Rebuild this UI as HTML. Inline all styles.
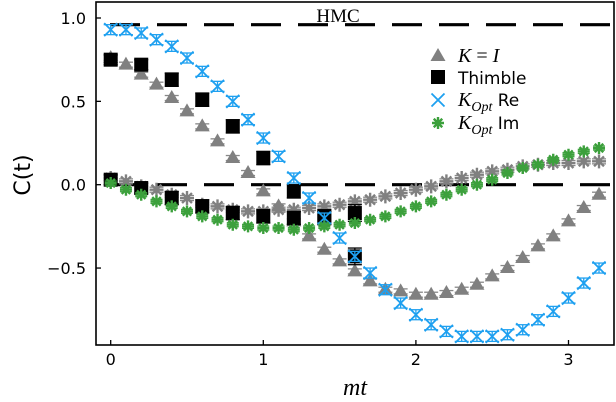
<!DOCTYPE html>
<html><head><meta charset="utf-8"><style>
body{margin:0;background:#fff}svg{display:block}
text{font-family:"DejaVu Sans","Liberation Sans",sans-serif}
</style></head><body>
<svg id="chart" width="616" height="402" xmlns="http://www.w3.org/2000/svg">
<g id="marks"></g>
<g id="axes"></g>
</svg>
<script>
const tKI = [0,0.1,0.2,0.3,0.4,0.5,0.6,0.7,0.8,0.9,1.0,1.1,1.2,1.3,1.4,1.5,1.6,1.7,1.8,1.9,2.0,2.1,2.2,2.3,2.4,2.5,2.6,2.7,2.8,2.9,3.0,3.1,3.2];
const kiRe = [0.76,0.72,0.66,0.60,0.52,0.44,0.35,0.26,0.16,0.07,-0.04,-0.13,-0.22,-0.31,-0.39,-0.46,-0.52,-0.58,-0.63,-0.64,-0.66,-0.66,-0.65,-0.63,-0.60,-0.55,-0.50,-0.44,-0.37,-0.31,-0.22,-0.14,-0.06];
const kiIm = [0.04,0.02,-0.01,-0.03,-0.06,-0.08,-0.12,-0.13,-0.15,-0.16,-0.16,-0.15,-0.15,-0.14,-0.13,-0.12,-0.10,-0.09,-0.07,-0.05,-0.03,-0.01,0.02,0.04,0.06,0.08,0.09,0.11,0.12,0.13,0.13,0.14,0.14];
const optRe = [0.93,0.93,0.91,0.87,0.83,0.76,0.68,0.59,0.50,0.39,0.28,0.17,0.04,-0.08,-0.20,-0.32,-0.43,-0.53,-0.63,-0.71,-0.78,-0.84,-0.88,-0.91,-0.91,-0.91,-0.90,-0.87,-0.81,-0.76,-0.68,-0.59,-0.50];
const optIm = [0.01,-0.03,-0.06,-0.10,-0.13,-0.16,-0.19,-0.21,-0.24,-0.25,-0.26,-0.26,-0.27,-0.26,-0.25,-0.24,-0.23,-0.21,-0.19,-0.16,-0.13,-0.10,-0.06,-0.03,0.00,0.03,0.07,0.10,0.12,0.15,0.18,0.20,0.22];
const tTh = [0,0.2,0.4,0.6,0.8,1.0,1.2,1.4,1.6];
const thRe = [0.75,0.72,0.63,0.51,0.35,0.16,-0.04,-0.20,-0.43];
const thIm = [0.03,-0.02,-0.08,-0.13,-0.17,-0.19,-0.20,-0.19,-0.17];
const thErr = [0.03,0.03,0.04,0.04,0.04,0.04,0.04,0.04,0.05];
const hmcLevels = [0.96,0.0];
const xTicks = [0,1,2,3];
const yTicks = [1.0,0.5,0.0,-0.5];
const yTickLabels = ["1.0","0.5","0.0","\u22120.5"];

const X0=96,X1=614,Y0=2,Y1=345;
const xs = v => 110.7 + v*152.6;
const ys = v => 184.7 - v*166.7;
const NS="http://www.w3.org/2000/svg";
const marks=document.getElementById('marks'), axes=document.getElementById('axes');
function mk(tag,attrs,parent){const e=document.createElementNS(NS,tag);for(const k in attrs)e.setAttribute(k,attrs[k]);parent.appendChild(e);return e;}

hmcLevels.forEach(v=>{
  const l=mk('line',{x1:X0+14,x2:X1,y1:ys(v),y2:ys(v),stroke:'#000','stroke-width':3.2,'stroke-dasharray':'30 17'},marks);
  
  
});
const hmc=mk('text',{x:338,y:22,'text-anchor':'middle','font-size':19,fill:'#000',style:'font-family:"Liberation Serif",serif'},marks);
hmc.textContent='HMC';



function err(parent,x,y,e,color,cap){
  mk('line',{x1:x,x2:x,y1:ys(y+e),y2:ys(y-e),stroke:color,'stroke-width':1.3},parent);
  mk('line',{x1:x-cap,x2:x+cap,y1:ys(y+e),y2:ys(y+e),stroke:color,'stroke-width':1.3},parent);
  mk('line',{x1:x-cap,x2:x+cap,y1:ys(y-e),y2:ys(y-e),stroke:color,'stroke-width':1.3},parent);
}
function tri(parent,x,y,c){mk('path',{d:`M${x},${y-8}L${x+7.5},${y+5}L${x-7.5},${y+5}Z`,fill:c},parent);}
function star(parent,x,y,c,r){let d='';for(let i=0;i<4;i++){const a=i*Math.PI/4;d+=`M${x-r*Math.cos(a)},${y-r*Math.sin(a)}L${x+r*Math.cos(a)},${y+r*Math.sin(a)}`;}mk('path',{d:d,stroke:c,'stroke-width':2.4,fill:'none'},parent);}
function cross(parent,x,y,c,r){mk('path',{d:`M${x-r},${y-r}L${x+r},${y+r}M${x-r},${y+r}L${x+r},${y-r}`,stroke:c,'stroke-width':1.8,fill:'none'},parent);}

const gKI=mk('g',{},marks);
[kiRe,kiIm].forEach((arr,si)=>arr.forEach((v,i)=>{
  const x=xs(tKI[i]),y=ys(v);
  err(gKI,x,v,0.015,'#888',7);
  if(si===0) tri(gKI,x,y,'#808080'); else star(gKI,x,y,'#808080',7);
}));
const gTh=mk('g',{},marks);
[thRe,thIm].forEach(arr=>arr.forEach((v,i)=>{
  const x=xs(tTh[i]),y=ys(v);
  err(gTh,x,v,thErr[i],'#000',7);
  mk('rect',{x:x-7,y:y-7,width:14,height:14,fill:'#000'},gTh);
}));
const gRe=mk('g',{},marks);
optRe.forEach((v,i)=>{const x=xs(tKI[i]),y=ys(v);err(gRe,x,v,0.03,'#1ea0f0',7);cross(gRe,x,y,'#1ea0f0',6.5);});
const gIm=mk('g',{},marks);
optIm.forEach((v,i)=>{const x=xs(tKI[i]),y=ys(v);err(gIm,x,v,0.012,'#3ca03c',6);star(gIm,x,y,'#3ca03c',6);});

const fr=mk('rect',{x:X0,y:Y0,width:X1-X0,height:Y1-Y0,fill:'none',stroke:'#000','stroke-width':1.6},axes);

xTicks.forEach(v=>{
  mk('line',{x1:xs(v),x2:xs(v),y1:Y1,y2:Y1-5,stroke:'#000','stroke-width':1.3},axes);
  const t=mk('text',{x:xs(v),y:365,'text-anchor':'middle','font-size':16},axes);t.textContent=String(v);
  
});
yTicks.forEach((v,i)=>{
  mk('line',{x1:X0,x2:X0+5,y1:ys(v),y2:ys(v),stroke:'#000','stroke-width':1.3},axes);
  const t=mk('text',{x:86,y:ys(v)+6,'text-anchor':'end','font-size':16},axes);t.textContent=yTickLabels[i];
  
});
const xt=mk('text',{x:355,y:395,'text-anchor':'middle','font-size':24,'font-style':'italic',style:'font-family:"Liberation Serif",serif'},axes);xt.textContent='mt';

const yt=mk('text',{x:0,y:0,'text-anchor':'middle','font-size':22,transform:'translate(30,175) rotate(-90)'},axes);yt.textContent='C(t)';


const lg=mk('g',{},axes);
tri(lg,438,56,'#808080');
mk('rect',{x:431,y:70,width:14,height:14,fill:'#000'},lg);
cross(lg,438,100,'#1ea0f0',6.5);
star(lg,438,123,'#3ca03c',6);
const ser='font-family:"Liberation Serif",serif;font-style:italic';
function lt(y,html,name){const t=mk('text',{x:458,y:y,'font-size':17},lg);t.innerHTML=html;}
lt(62,`<tspan style='${ser}' font-size='20'>K</tspan><tspan style='font-family:"Liberation Serif",serif' font-size='20'> = </tspan><tspan style='${ser}' font-size='20'>I</tspan>`,'legend-k-identity');
lt(84,'Thimble','legend-thimble');
lt(106,`<tspan style='${ser}' font-size='20'>K</tspan><tspan style='${ser}' font-size='14' dy='5'>Opt</tspan><tspan dy='-5'> Re</tspan>`,'legend-kopt-re');
lt(129,`<tspan style='${ser}' font-size='20'>K</tspan><tspan style='${ser}' font-size='14' dy='5'>Opt</tspan><tspan dy='-5'> Im</tspan>`,'legend-kopt-im');
</script>
</body></html>
